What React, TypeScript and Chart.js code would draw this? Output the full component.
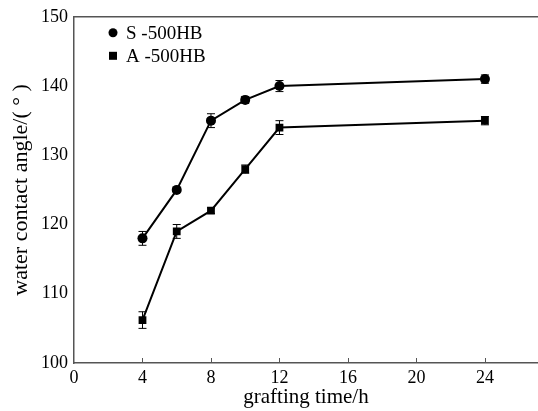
import React, { useEffect, useRef } from "react";
import { Chart, registerables } from "chart.js";

Chart.register(...registerables);

const times = [4, 6, 8, 10, 12, 24];
const sValues = [118, 125, 135, 138, 140, 141];
const sErrors = [1.0, 0.3, 1.0, 0.5, 0.8, 0.6];
const aValues = [106.2, 119, 122, 128, 134, 135];
const aErrors = [1.2, 1.0, 0.4, 0.6, 1.0, 0.6];
const xTicks = [0, 4, 8, 12, 16, 20, 24];
const yTicks = [100, 110, 120, 130, 140, 150];
const seriesNames = ["S -500HB", "A -500HB"];

const FONT = "'Liberation Serif', 'Times New Roman', serif";

const errorBarPlugin = {
  id: "errorBars",
  afterDatasetsDraw(chart: any) {
    const ctx = chart.ctx;
    const y = chart.scales.y;
    const errs = [sErrors, aErrors];
    chart.data.datasets.forEach((ds: any, di: number) => {
      const meta = chart.getDatasetMeta(di);
      meta.data.forEach((pt: any, i: number) => {
        const v = ds.data[i].y;
        const e = errs[di][i];
        const yt = y.getPixelForValue(v + e);
        const yb = y.getPixelForValue(v - e);
        ctx.save();
        ctx.strokeStyle = "#000";
        ctx.lineWidth = 1;
        ctx.beginPath();
        ctx.moveTo(pt.x, yt);
        ctx.lineTo(pt.x, yb);
        ctx.moveTo(pt.x - 4, yt);
        ctx.lineTo(pt.x + 4, yt);
        ctx.moveTo(pt.x - 4, yb);
        ctx.lineTo(pt.x + 4, yb);
        ctx.stroke();
        ctx.restore();
      });
    });
  },
};

const framePlugin = {
  id: "frame",
  afterDraw(chart: any) {
    const ctx = chart.ctx;
    const { left, right, top, bottom } = chart.chartArea;
    const x = chart.scales.x;
    ctx.save();
    ctx.strokeStyle = "#555";
    ctx.lineWidth = 1.5;
    ctx.beginPath();
    ctx.moveTo(left, top);
    ctx.lineTo(right, top);
    ctx.stroke();
    ctx.lineWidth = 1;
    ctx.beginPath();
    xTicks.forEach((t) => {
      if (t === 0) return;
      const px = Math.round(x.getPixelForValue(t)) + 0.5;
      ctx.moveTo(px, bottom);
      ctx.lineTo(px, bottom - 5);
    });
    ctx.stroke();

    // legend
    const lx = left + 39;
    const ly1 = top + 16;
    const ly2 = top + 39;
    ctx.fillStyle = "#000";
    ctx.beginPath();
    ctx.arc(lx, ly1, 4.5, 0, Math.PI * 2);
    ctx.fill();
    ctx.fillRect(lx - 4, ly2 - 4, 8, 8);
    ctx.font = `19px ${FONT}`;
    ctx.textBaseline = "middle";
    ctx.textAlign = "left";
    ctx.fillText(seriesNames[0], lx + 13, ly1 + 1);
    ctx.fillText(seriesNames[1], lx + 13, ly2 + 1);
    ctx.restore();
  },
};

export default function App() {
  const ref = useRef<HTMLCanvasElement>(null);
  useEffect(() => {
    document.body.style.margin = "0";
    const canvas = ref.current;
    if (!canvas) return;
    const chart = new Chart(canvas, {
      type: "line",
      data: {
        datasets: [
          {
            label: seriesNames[0],
            data: times.map((t, i) => ({ x: t, y: sValues[i] })),
            borderColor: "#000",
            backgroundColor: "#000",
            borderWidth: 2,
            pointStyle: "circle",
            pointRadius: 5,
            pointBorderWidth: 0,
            tension: 0,
          },
          {
            label: seriesNames[1],
            data: times.map((t, i) => ({ x: t, y: aValues[i] })),
            borderColor: "#000",
            backgroundColor: "#000",
            borderWidth: 2,
            pointStyle: "rect",
            pointRadius: 5.5,
            pointBorderWidth: 0,
            tension: 0,
          },
        ],
      },
      options: {
        animation: false,
        responsive: false,
        layout: { autoPadding: false, padding: { top: 16, right: 0, left: 0, bottom: 0 } },
        plugins: { legend: { display: false }, tooltip: { enabled: false } },
        scales: {
          x: {
            type: "linear",
            min: 0,
            max: 27.1,
            afterBuildTicks: (s: any) => {
              s.ticks = xTicks.map((v) => ({ value: v }));
            },
            afterFit: (s: any) => {
              s.height = 48;
            },
            grid: { display: false, drawTicks: false },
            border: { display: true, color: "#555", width: 1.5 },
            ticks: {
              color: "#000",
              font: { family: FONT, size: 18 },
              padding: 4,
              maxRotation: 0,
              autoSkip: false,
            },
            title: {
              display: true,
              text: "grafting time/h",
              color: "#000",
              font: { family: FONT, size: 21 },
              padding: { top: 0, bottom: 1 },
            },
          },
          y: {
            min: 100,
            max: 150,
            afterBuildTicks: (s: any) => {
              s.ticks = yTicks.map((v) => ({ value: v }));
            },
            afterFit: (s: any) => {
              s.width = 74;
            },
            grid: { display: false, drawTicks: false },
            border: { display: true, color: "#555", width: 1.5 },
            ticks: {
              color: "#000",
              font: { family: FONT, size: 18 },
              padding: 6,
            },
            title: {
              display: true,
              text: "water contact angle/( ° )",
              color: "#000",
              font: { family: FONT, size: 22 },
              padding: { top: 8, bottom: 0 },
            },
          },
        },
      },
      plugins: [errorBarPlugin, framePlugin],
    } as any);
    return () => chart.destroy();
  }, []);
  return (
    <div style={{ width: 538, height: 411 }}>
      <canvas ref={ref} width={538} height={411} />
    </div>
  );
}
